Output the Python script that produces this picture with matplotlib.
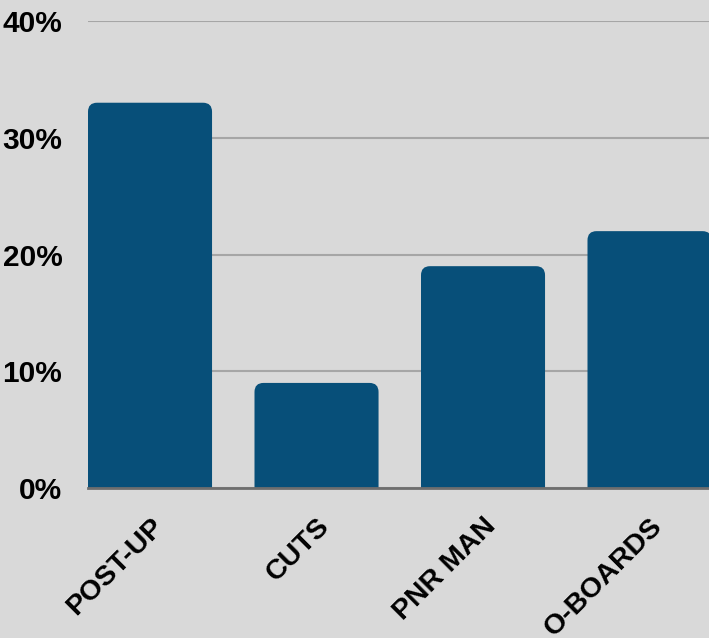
import matplotlib
matplotlib.use("Agg")
import matplotlib.pyplot as plt
from matplotlib.patches import FancyBboxPatch
import numpy as np

categories = ["POST-UP", "CUTS", "PNR MAN", "O-BOARDS"]
values = [33, 9, 19, 22]
yticks = [0, 10, 20, 30, 40]
ytick_labels = ["0%", "10%", "20%", "30%", "40%"]

bg = "#d9d9d9"
bar_color = "#074f79"

W, H = 709, 638
fig = plt.figure(figsize=(W / 100, H / 100), dpi=100)
fig.patch.set_facecolor(bg)
ax = fig.add_axes([88 / W, 1 - 488 / H, 621 / W, (488 - 21) / H])
ax.set_facecolor(bg)

x = np.arange(len(categories))
bw = 0.745
bars = ax.bar(x, values, width=bw, color=bar_color, zorder=3)

ax.set_xlim(-bw / 2, -bw / 2 + 621 / 166.5)
ax.set_ylim(0, 40)

# swap plain bars for ones with rounded top corners
px_x = 166.5            # pixels per category
px_y = 467 / 40         # pixels per percent
r = 9 / px_x
for b in bars:
    fb = FancyBboxPatch((b.get_x(), -2), b.get_width(), b.get_height() + 2,
                        boxstyle=f"round,pad=0,rounding_size={r}",
                        mutation_aspect=px_x / px_y,
                        fc=bar_color, ec="none", zorder=3, clip_on=True)
    ax.add_patch(fb)
    b.remove()

ax.set_yticks(yticks)
ax.set_yticklabels(ytick_labels, fontsize=21.5, fontweight="bold",
                   family="Liberation Sans")
ax.set_xticks(x)
ax.set_xticklabels(categories, fontsize=20.5, fontweight="bold",
                   family="Liberation Sans", rotation=45,
                   ha="right", va="top", rotation_mode="anchor")
ax.tick_params(axis="y", length=0, pad=18.5)
ax.tick_params(axis="x", length=0, pad=18)

ax.grid(axis="y", color="#a6a6a6", linewidth=1.5, zorder=0)
ax.set_axisbelow(True)
for s in ["top", "right", "left"]:
    ax.spines[s].set_visible(False)
ax.spines["bottom"].set_color("#6e6e6e")
ax.spines["bottom"].set_linewidth(2)
ax.spines["bottom"].set_zorder(4)

fig.savefig("out.png", dpi=100, facecolor=bg)
